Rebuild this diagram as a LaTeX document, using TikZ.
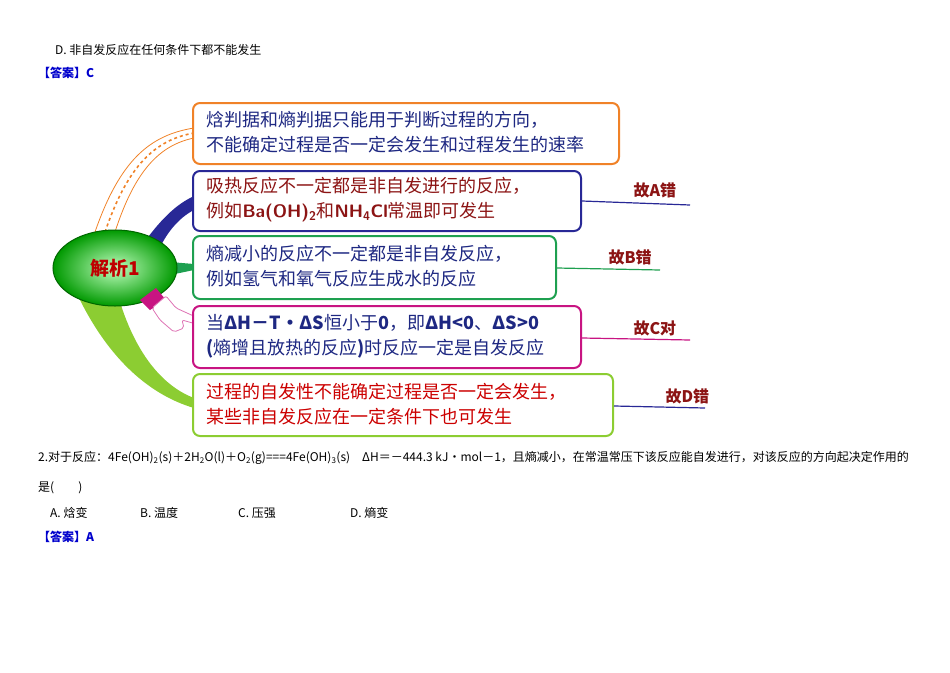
\documentclass[tikz,border=0pt]{standalone}
\usepackage{fontspec}
\setmainfont{Noto Sans CJK SC}
\usetikzlibrary{shapes.geometric}
\begin{document}
\begin{tikzpicture}[x=1pt,y=-1pt,
  box/.style={draw,line width=2pt,rounded corners=7pt,fill=white,anchor=north west,align=left,inner sep=0pt},
  bt/.style={font=\fontsize{18}{25}\selectfont},
  lab/.style={font=\fontsize{16}{18}\selectfont\bfseries,anchor=west},
  small/.style={font=\fontsize{12}{14}\selectfont,anchor=west,inner sep=0pt},
  ans/.style={font=\fontsize{12}{14}\selectfont\bfseries,text=blue!80!black,anchor=west,inner sep=0pt}]
\definecolor{og}{RGB}{240,130,40}
\definecolor{nv}{RGB}{40,40,150}
\definecolor{gr}{RGB}{30,160,80}
\definecolor{mg}{RGB}{200,20,130}
\definecolor{lg}{RGB}{140,205,50}
\definecolor{tb}{RGB}{30,40,130}
\definecolor{tr}{RGB}{140,20,20}
\useasboundingbox (0,0) rectangle (950,672);
\node[small] (qd) at (55,50) {D.~非自发反应在任何条件下都不能发生};
\node[ans] (a1) at (38,73) {【答案】C};
% branches
\fill[nv] (140,248) .. controls (160,220) and (175,205) .. (194,196) -- (194,210) .. controls (178,218) and (165,235) .. (158,252) -- cycle;
\fill[gr] (170,262) -- (194,264) -- (194,270) -- (170,275) -- cycle;
\fill[lg] (80,300) .. controls (110,360) and (150,395) .. (194,408) -- (194,398) .. controls (160,385) and (135,350) .. (120,302) -- cycle;
\draw[og,line width=0.8pt] (95,232) .. controls (120,160) and (150,135) .. (194,128);
\draw[og,line width=0.8pt] (115,232) .. controls (135,170) and (160,145) .. (194,138);
\draw[og,line width=1.6pt,dashed] (105,232) .. controls (128,165) and (155,140) .. (194,133);
% ellipse
\node[ellipse,draw=green!40!black,line width=1pt,inner color=green!25,outer color=green!60!black,minimum width=124pt,minimum height=76pt] (c) at (115,268) {};
\node[font=\fontsize{19}{20}\selectfont\bfseries,text=red!75!black] (ct) at (115,268) {解析1};
% hand
\fill[mg] (140,300) -- (156,288) -- (166,300) -- (150,310) -- cycle;
\draw[mg!60,fill=white,line width=0.8pt,rounded corners=2pt] (152,308) -- (166,296) -- (176,308) -- (198,318) -- (196,324) -- (182,320) -- (184,328) -- (174,332) -- (160,320) -- cycle;
% boxes
\node[box,draw=og,minimum width=426pt,minimum height=61pt] (b1) at (192,102) {};
\node[bt,text=tb,anchor=west,align=left] (t1) at (203,132) {焓判据和熵判据只能用于判断过程的方向，\\不能确定过程是否一定会发生和过程发生的速率};
\node[box,draw=nv,minimum width=388pt,minimum height=60pt] (b2) at (192,170) {};
\node[bt,text=tr,anchor=west,align=left] (t2) at (203,200) {吸热反应不一定都是非自发进行的反应，\\例如\textbf{\sffamily Ba(OH)\textsubscript{2}}和\textbf{\sffamily NH\textsubscript{4}Cl}常温即可发生};
\node[box,draw=gr,minimum width=363pt,minimum height=63pt] (b3) at (192,235) {};
\node[bt,text=tb,anchor=west,align=left] (t3) at (203,266) {熵减小的反应不一定都是非自发反应，\\例如氢气和氧气反应生成水的反应};
\node[box,draw=mg,minimum width=388pt,minimum height=62pt] (b4) at (192,305) {};
\node[bt,text=tb,anchor=west,align=left] (t4) at (203,336) {当\textbf{ΔH－T·ΔS}恒小于\textbf{0}，即\textbf{ΔH<0}、\textbf{ΔS>0}\\\textbf{(}熵增且放热的反应\textbf{)}时反应一定是自发反应};
\node[box,draw=lg,minimum width=420pt,minimum height=62pt] (b5) at (192,373) {};
\node[bt,text=red!80!black,anchor=west,align=left] (t5) at (203,404) {过程的自发性不能确定过程是否一定会发生，\\某些非自发反应在一定条件下也可发生};
% labels
\node[lab,text=tr] (la) at (630,190) {故A错};
\draw[nv,line width=1.2pt] (b2.east|-0,201) -- (690,205);
\node[lab,text=tr] (lb) at (605,257) {故B错};
\draw[gr,line width=1.2pt] (b3.east|-0,268) -- (660,270);
\node[lab,text=tr] (lc) at (630,328) {故C对};
\draw[mg,line width=1.2pt] (b4.east|-0,338) -- (690,340);
\node[lab,text=tr] (ld) at (662,396) {故D错};
\draw[nv,line width=1.2pt] (b5.east|-0,406) -- (705,408);
% bottom
\node[small] (q2) at (38,458) {2.对于反应：4Fe(OH)\textsubscript{2}(s)＋2H\textsubscript{2}O(l)＋O\textsubscript{2}(g)===4Fe(OH)\textsubscript{3}(s)\quad ΔH＝－444.3 kJ·mol－1，且熵减小，在常温常压下该反应能自发进行，对该反应的方向起决定作用的};
\node[small] (q2b) at (38,488) {是(\qquad)};
\node[small] (o1) at (50,513) {A.~焓变};
\node[small] (o2) at (140,513) {B.~温度};
\node[small] (o3) at (238,513) {C.~压强};
\node[small] (o4) at (350,513) {D.~熵变};
\node[ans] (a2) at (38,537) {【答案】A};
\end{tikzpicture}
\end{document}
